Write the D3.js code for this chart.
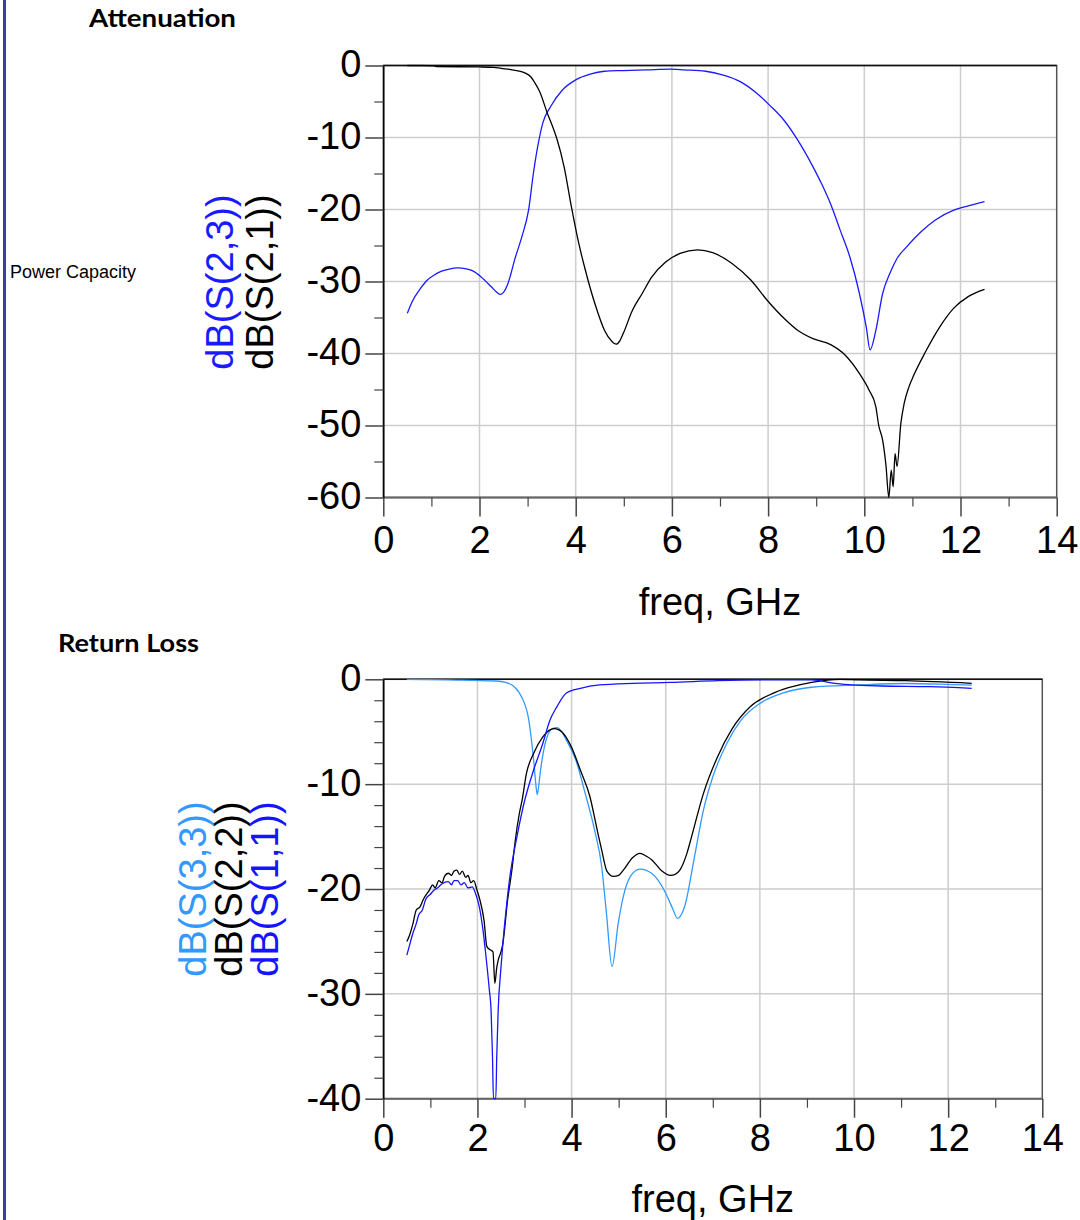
<!DOCTYPE html>
<html><head><meta charset="utf-8">
<script src="https://cdn.jsdelivr.net/npm/d3@7"></script>
<style>
html,body{margin:0;padding:0;background:#fff;}
svg{display:block;}
.tick text{font-family:"Liberation Sans",Arial,sans-serif;}
</style></head>
<body>
<svg id="c" width="1080" height="1220"></svg>
<script>
// ---------- data ----------
const xTicks = [0, 2, 4, 6, 8, 10, 12, 14];
const xMinor = [1, 3, 5, 7, 9, 11, 13];
const yTicksTop = [0, -10, -20, -30, -40, -50, -60];
const yMinorTop = [-5, -15, -25, -35, -45, -55];
const yTicksBot = [0, -10, -20, -30, -40];
const yMinorBot = [-2, -4, -6, -8, -12, -14, -16, -18, -22, -24, -26, -28, -32, -34, -36, -38];

// Attenuation: dB(S(2,3)) [freq GHz, dB]
const s23 = [[0.5,-34.4],[0.6,-32.8],[0.77,-31.0],[0.9,-29.9],[1.06,-29.1],[1.2,-28.6],[1.35,-28.3],[1.55,-28.1],[1.7,-28.2],[1.85,-28.5],[2.04,-29.4],[2.24,-30.7],[2.36,-31.5],[2.43,-31.8],[2.5,-31.5],[2.58,-30.5],[2.65,-29],[2.73,-27],[2.88,-23.8],[3.02,-20.1],[3.12,-15],[3.22,-10.9],[3.32,-7.9],[3.47,-5.8],[3.71,-3.5],[4.0,-2.0],[4.3,-1.2],[4.6,-0.8],[4.99,-0.7],[5.48,-0.6],[5.97,-0.5],[6.26,-0.6],[6.7,-0.8],[7.05,-1.3],[7.44,-2.3],[7.74,-3.7],[8.03,-5.5],[8.33,-7.6],[8.62,-10.4],[8.92,-13.9],[9.11,-16.4],[9.31,-19.4],[9.5,-22.9],[9.7,-26.6],[9.9,-31.7],[10.04,-36.3],[10.12,-39.5],[10.24,-36.8],[10.38,-31.7],[10.53,-28.9],[10.68,-26.8],[10.88,-25.2],[11.18,-23.1],[11.47,-21.5],[11.86,-20.1],[12.16,-19.5],[12.5,-18.9]];
// Attenuation: dB(S(2,1))
const s21 = [[0.5,0],[0.8,0],[1.05,-0.05],[1.1,-0.15],[2.0,-0.2],[2.3,-0.25],[2.45,-0.4],[2.63,-0.55],[2.8,-0.75],[2.93,-1.0],[3.07,-1.6],[3.15,-2.4],[3.25,-3.6],[3.42,-6.8],[3.51,-8.3],[3.61,-10.2],[3.76,-14.1],[3.91,-19.6],[4.05,-24.3],[4.2,-28.4],[4.4,-33.1],[4.6,-36.8],[4.75,-38.3],[4.84,-38.7],[4.92,-38.2],[4.99,-37.2],[5.18,-34],[5.38,-31.7],[5.58,-29.4],[5.87,-27.3],[6.17,-26.1],[6.53,-25.6],[6.85,-26],[7.25,-27.5],[7.64,-29.8],[7.98,-32.6],[8.33,-35.1],[8.62,-36.8],[8.92,-37.9],[9.31,-38.8],[9.6,-40.2],[9.9,-42.8],[10.1,-45.1],[10.24,-47.4],[10.3,-50],[10.38,-52],[10.45,-55.5],[10.51,-60],[10.56,-56.2],[10.6,-58.5],[10.64,-53.9],[10.68,-55.7],[10.76,-49.7],[10.83,-46.9],[10.93,-44.6],[11.03,-43.0],[11.27,-39.8],[11.57,-36.3],[11.86,-33.7],[12.16,-32.1],[12.5,-31.1]];

// Return loss: dB(S(3,3))
const s33 = [[0.5,0],[1.38,-0.06],[2.39,-0.16],[2.6,-0.3],[2.75,-0.6],[2.89,-1.3],[3.0,-2.3],[3.08,-3.6],[3.14,-5.5],[3.2,-8.0],[3.24,-10.0],[3.27,-11.0],[3.3,-10.2],[3.34,-8.7],[3.44,-6.1],[3.59,-4.7],[3.69,-4.6],[3.79,-5.0],[3.89,-5.8],[4.09,-7.7],[4.29,-10.9],[4.49,-14.4],[4.64,-17.9],[4.74,-22.3],[4.86,-27.4],[4.99,-23.3],[5.1,-20.7],[5.25,-18.8],[5.45,-18.1],[5.7,-18.5],[6.0,-20.4],[6.15,-21.9],[6.25,-22.8],[6.4,-21.7],[6.6,-17.2],[6.8,-12.5],[7.0,-9.3],[7.3,-6.1],[7.6,-3.9],[8.0,-2.3],[8.5,-1.3],[9.1,-0.76],[10.1,-0.54],[11.1,-0.4],[12.1,-0.5],[12.5,-0.55]];
// Return loss: dB(S(2,2))
const s22 = [[0.5,-25.0],[0.55,-24.5],[0.63,-23.3],[0.7,-22.0],[0.78,-21.7],[0.85,-21.0],[0.98,-20.1],[1.05,-19.6],[1.1,-19.9],[1.18,-19.2],[1.25,-19.4],[1.3,-18.8],[1.38,-18.5],[1.45,-18.7],[1.5,-18.3],[1.56,-18.2],[1.62,-18.6],[1.68,-18.3],[1.75,-18.9],[1.8,-18.7],[1.86,-19.4],[1.92,-19.2],[1.99,-20.1],[2.05,-21.0],[2.14,-23.0],[2.2,-25.5],[2.27,-25.8],[2.33,-26.0],[2.37,-29.0],[2.41,-27.5],[2.44,-26.8],[2.5,-26.0],[2.54,-25.2],[2.64,-21.1],[2.74,-17.9],[2.8,-15.5],[2.89,-12.8],[2.95,-11.5],[3.04,-9.0],[3.19,-7.1],[3.39,-5.5],[3.55,-4.8],[3.64,-4.7],[3.72,-4.8],[3.79,-5.0],[3.99,-6.4],[4.19,-8.7],[4.39,-11.2],[4.55,-14.5],[4.64,-16.3],[4.75,-18.3],[4.89,-18.8],[5.0,-18.7],[5.1,-18.2],[5.3,-17.0],[5.45,-16.6],[5.6,-16.9],[5.7,-17.2],[5.9,-18.2],[6.1,-18.7],[6.2,-18.6],[6.3,-18.2],[6.45,-16.6],[6.55,-15.0],[6.8,-10.9],[7.1,-7.4],[7.4,-4.8],[7.8,-2.6],[8.3,-1.3],[9.1,-0.3],[9.7,0],[10.1,-0.06],[11.1,-0.13],[12.5,-0.38]];
// Return loss: dB(S(1,1))
const s11 = [[0.5,-26.3],[0.55,-25.5],[0.63,-24.2],[0.7,-23.3],[0.75,-22.5],[0.83,-22.0],[0.9,-21.0],[1.0,-20.5],[1.08,-20.1],[1.15,-19.9],[1.25,-19.5],[1.38,-19.3],[1.45,-19.6],[1.5,-19.2],[1.58,-19.2],[1.65,-19.6],[1.72,-19.4],[1.8,-19.9],[1.89,-19.8],[1.95,-20.3],[2.04,-21.7],[2.12,-24.0],[2.19,-26.8],[2.25,-29.5],[2.29,-31.6],[2.32,-36],[2.34,-40],[2.39,-40],[2.41,-36],[2.44,-31.6],[2.5,-27.5],[2.54,-25.2],[2.62,-21.5],[2.69,-18.8],[2.84,-15.0],[2.99,-11.8],[3.19,-8.7],[3.39,-6.1],[3.54,-3.9],[3.69,-2.6],[3.89,-1.3],[4.19,-0.86],[4.59,-0.54],[5.3,-0.38],[6.1,-0.3],[7.1,-0.13],[8.1,-0.06],[9.1,-0.06],[9.6,-0.38],[10.6,-0.64],[11.6,-0.7],[12.5,-0.86]];

// ---------- drawing ----------
const svg = d3.select("#c");
const FONT = '"Liberation Sans", Arial, sans-serif';
const TFONT = 'Lato, "Open Sans", sans-serif';
const fmt = d => String(d);   // plain hyphen-minus as in reference

svg.append("rect").attr("x",3).attr("y",0).attr("width",3).attr("height",1220).attr("fill","#3d3d9e");

svg.append("text").attr("x",89).attr("y",27).attr("font-family",TFONT).attr("font-weight","bold")
  .attr("font-size",24).attr("textLength",147).attr("lengthAdjust","spacingAndGlyphs").text("Attenuation");
svg.append("text").attr("x",10).attr("y",278).attr("font-family",FONT).attr("font-size",18).text("Power Capacity");
svg.append("text").attr("x",58).attr("y",652).attr("font-family",TFONT).attr("font-weight","bold")
  .attr("font-size",24).attr("textLength",141).attr("lengthAdjust","spacingAndGlyphs").text("Return Loss");

function panel(cfg){
  const {x, y, yTicks, yMinor, series, labels, labelY, xLabelY, tickLabelY, id} = cfg;
  const [x0,x1] = x.range(), [y0,y1] = [y.range()[1], y.range()[0]]; // y0 top, y1 bottom
  const g = svg.append("g");
  // grid
  g.selectAll(null).data(xTicks.filter(t=>t>0&&t<14)).join("line")
    .attr("x1",d=>x(d)).attr("x2",d=>x(d)).attr("y1",y0).attr("y2",y1)
    .attr("stroke","#cdcdcd").attr("stroke-width",1.5);
  g.selectAll(null).data(yTicks.filter(t=>t<0&&t>y.domain()[0])).join("line")
    .attr("x1",x0).attr("x2",x1).attr("y1",d=>y(d)).attr("y2",d=>y(d))
    .attr("stroke","#cdcdcd").attr("stroke-width",1.5);
  // frame
  g.append("rect").attr("x",x0).attr("y",y0).attr("width",x1-x0).attr("height",y1-y0)
    .attr("fill","none").attr("stroke","#555").attr("stroke-width",1.5);
  g.append("line").attr("x1",x0).attr("x2",x1).attr("y1",y0).attr("y2",y0).attr("stroke","#111").attr("stroke-width",1.5);
  g.append("line").attr("x1",x0).attr("x2",x1).attr("y1",y1).attr("y2",y1).attr("stroke","#666").attr("stroke-width",2);
  // y axis major
  const ya = g.append("g").attr("transform",`translate(${x0},0)`)
    .call(d3.axisLeft(y).tickValues(yTicks).tickSize(18).tickSizeOuter(0).tickPadding(4).tickFormat(fmt));
  ya.select(".domain").attr("stroke","#000").attr("stroke-width",1.5);
  ya.selectAll(".tick line").attr("stroke","#444").attr("stroke-width",1.5);
  ya.selectAll(".tick text").attr("font-size",38).attr("fill","#000").attr("font-family",FONT).attr("dy","0.3em");
  const ym = g.append("g").attr("transform",`translate(${x0},0)`)
    .call(d3.axisLeft(y).tickValues(yMinor).tickSize(9).tickSizeOuter(0).tickFormat(""));
  ym.select(".domain").remove();
  ym.selectAll(".tick line").attr("stroke","#444").attr("stroke-width",1.2);
  // x axis
  const xa = g.append("g").attr("transform",`translate(0,${y1})`)
    .call(d3.axisBottom(x).tickValues(xTicks).tickSize(19).tickSizeOuter(0).tickFormat(fmt));
  xa.select(".domain").remove();
  xa.selectAll(".tick line").attr("stroke","#444").attr("stroke-width",1.5);
  xa.selectAll(".tick text").attr("font-size",38).attr("fill","#000").attr("font-family",FONT)
    .attr("y",tickLabelY - y1).attr("dy",0);
  const xm = g.append("g").attr("transform",`translate(0,${y1})`)
    .call(d3.axisBottom(x).tickValues(xMinor).tickSize(9).tickSizeOuter(0).tickFormat(""));
  xm.select(".domain").remove();
  xm.selectAll(".tick line").attr("stroke","#444").attr("stroke-width",1.2);
  // clip
  svg.append("clipPath").attr("id",id).append("rect").attr("x",x0).attr("y",y0-1).attr("width",x1-x0).attr("height",y1-y0+2);
  const line = d3.line().x(d=>x(d[0])).y(d=>y(d[1])).curve(d3.curveMonotoneX);
  const lg = g.append("g").attr("clip-path",`url(#${id})`);
  series.forEach(s=>{
    lg.append("path").datum(s.data).attr("d",line).attr("fill","none")
      .attr("stroke",s.color).attr("stroke-width",1.3).attr("stroke-linejoin","round");
  });
  // y labels
  labels.forEach(l=>{
    svg.append("text").attr("transform",`translate(${l.x},${labelY}) rotate(-90)`)
      .attr("text-anchor","middle").attr("font-family",FONT).attr("font-size",38)
      .attr("fill",l.color).text(l.text);
  });
  // x label
  svg.append("text").attr("x",(x0+x1)/2).attr("y",xLabelY).attr("text-anchor","middle")
    .attr("font-family",FONT).attr("font-size",38).attr("fill","#000").text("freq, GHz");
}

panel({
  id:"clipTop",
  x: d3.scaleLinear([0,14],[383.3,1056.7]),
  y: d3.scaleLinear([-60,0],[497.5,65.5]),
  yTicks: yTicksTop, yMinor: yMinorTop,
  series:[{data:s23,color:"#1a1aff"},{data:s21,color:"#000"}],
  labels:[{x:233,text:"dB(S(2,3))",color:"#1a1aff"},{x:273,text:"dB(S(2,1))",color:"#000"}],
  labelY: 282, xLabelY: 615, tickLabelY: 553
});
panel({
  id:"clipBot",
  x: d3.scaleLinear([0,14],[383.3,1042.3]),
  y: d3.scaleLinear([-40,0],[1098.7,679.3]),
  yTicks: yTicksBot, yMinor: yMinorBot,
  series:[{data:s33,color:"#3399ff"},{data:s22,color:"#000"},{data:s11,color:"#1414ff"}],
  labels:[{x:206,text:"dB(S(3,3))",color:"#3399ff"},{x:242,text:"dB(S(2,2))",color:"#000"},{x:278,text:"dB(S(1,1))",color:"#1414ff"}],
  labelY: 889, xLabelY: 1212, tickLabelY: 1151
});
</script>
</body></html>
